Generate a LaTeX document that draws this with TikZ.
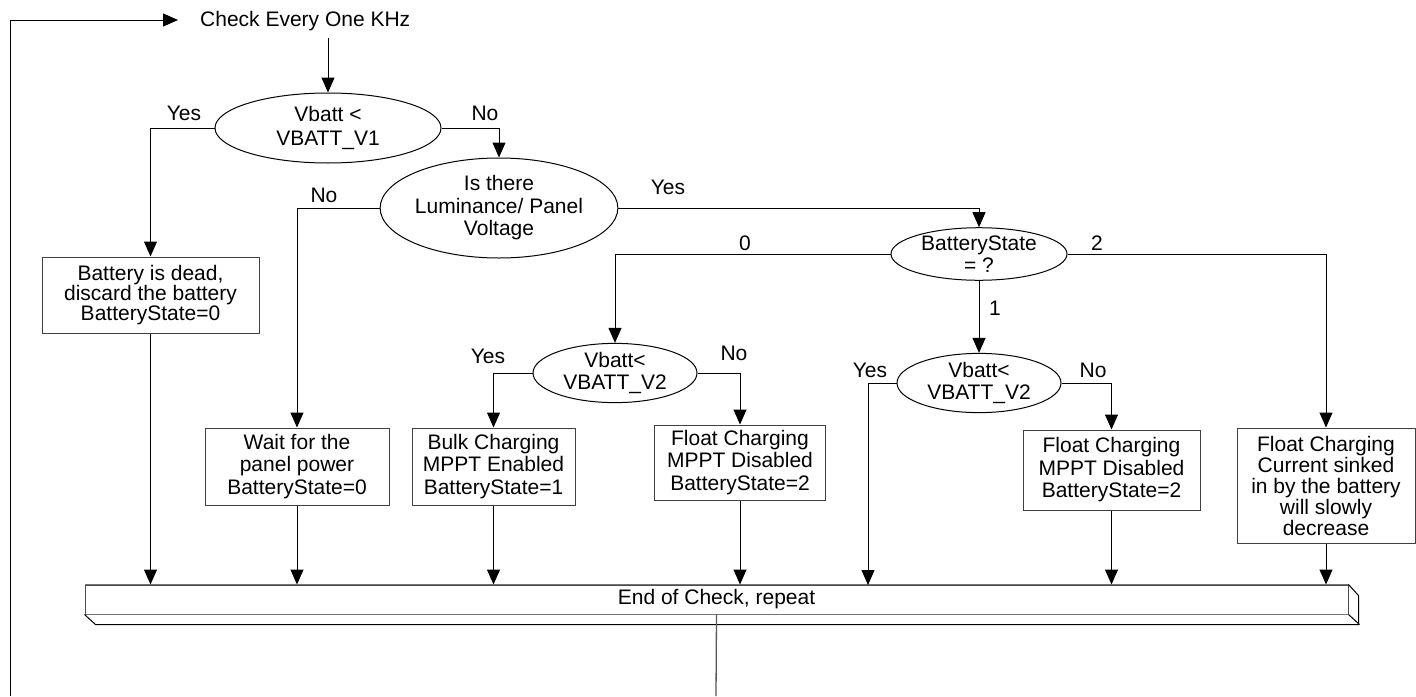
\documentclass[tikz,border=0pt]{standalone}
\usepackage{fontspec}
\setmainfont{Liberation Sans}
\usetikzlibrary{arrows.meta,shapes.geometric}
\newcommand\dfont{\fontsize{21}{20}\selectfont}
\newcommand\wfont{\fontsize{21}{22.5}\selectfont}
\newcommand\xfont{\fontsize{21}{24}\selectfont}
\begin{document}
\begin{tikzpicture}[x=1pt,y=-1pt,
  font=\dfont,
  conn/.style={draw=black, line width=1pt},
  arr/.style={conn, -{Triangle[length=15pt,width=13pt]}},
  dec/.style={ellipse, draw=black, line width=1pt, inner sep=0pt, align=center},
  proc/.style={rectangle, draw=black!75, line width=1pt, inner sep=2pt, align=center},
  lbl/.style={inner sep=0pt}]
\useasboundingbox (0,0) rectangle (1416,696);

% title
\node[lbl, anchor=base west] (title) at (200,26) {Check Every One KHz};

% decisions
\node[dec, font=\xfont, minimum width=226, minimum height=70] (e1) at (328,128) {Vbatt <\\VBATT\_V1};
\node[dec, font=\wfont, minimum width=230, minimum height=100] (e2) at (499,208) {Is there\\Luminance/ Panel\\Voltage};
\node[dec, font=\wfont, minimum width=176, minimum height=52] (e3) at (979,254) {BatteryState\\= ?};
\node[dec, font=\wfont, minimum width=164, minimum height=56] (e4) at (615,373) {Vbatt<\\VBATT\_V2};
\node[dec, font=\wfont, minimum width=164, minimum height=54] (e5) at (979,383) {Vbatt<\\VBATT\_V2};

% process boxes
\node[proc, minimum width=217, minimum height=76] (bA) at (150.5,295) {Battery is dead,\\discard the battery\\BatteryState=0};
\node[proc, font=\wfont, minimum width=184, minimum height=77] (bB) at (297,466.5) {Wait for the\\panel power\\BatteryState=0};
\node[proc, font=\wfont, minimum width=163, minimum height=77] (bC) at (493.5,466.5) {Bulk Charging\\MPPT Enabled\\BatteryState=1};
\node[proc, font=\wfont, minimum width=171, minimum height=75] (bD) at (740,462.5) {Float Charging\\MPPT Disabled\\BatteryState=2};
\node[proc, font=\wfont, minimum width=177, minimum height=80] (bE) at (1111.5,470) {Float Charging\\MPPT Disabled\\BatteryState=2};
\node[proc, font=\fontsize{21}{21}\selectfont, minimum width=178, minimum height=115] (bF) at (1326,485.5) {Float Charging\\Current sinked\\in by the battery\\will slowly\\decrease};

% end bar
\node[rectangle, draw=black!70, line width=1pt, minimum width=1263, minimum height=29, inner sep=0pt] (bar) at (716.5,599.5) {End of Check, repeat};
\draw[draw=black!55, line width=1.6pt] (bar.north west) -- (bar.north east);
\draw[draw=black!55, line width=1.4pt] (bar.south west) -- (bar.south east);
\draw[draw=black, line width=1pt] (bar.south west) -- ++(11,10) -- ++(1263,0) -- ++(0,-29) -- (bar.north east);
\draw[draw=black, line width=1pt] (bar.south east) -- ++(11,10);

% loop
\coordinate (botM) at (716,696);
\coordinate (botL) at (10,696);
\coordinate (topL) at (10,20);
\coordinate (arrEnd) at (178,20);
\draw[draw=black!65, line width=1.3pt] (bar.south) -- (botM);
\draw[conn] (botL) -- (topL);
\draw[arr] (topL) -- (arrEnd);
\coordinate (titleDown) at (328,38);
\draw[arr] (titleDown) -- (e1.north);

% decision branches
\draw[arr] (e1.west) -| (bA.north);
\draw[arr] (e1.east) -| (e2.north);
\draw[arr] (e2.west) -| (bB.north);
\draw[arr] (e2.east) -| (e3.north);
\draw[arr] (e3.west) -| (e4.north);
\draw[arr] (e3.east) -| (bF.north);
\draw[arr] (e3.south) -- (e5.north);
\draw[arr] (e4.west) -| (bC.north);
\draw[arr] (e4.east) -| (bD.north);
\coordinate (yesEnd) at (868,585);
\draw[arr] (e5.west) -| (yesEnd);
\draw[arr] (e5.east) -| (bE.north);

% boxes to bar
\draw[arr] (bA.south) -- (bA.south |- bar.north);
\draw[arr] (bB.south) -- (bB.south |- bar.north);
\draw[arr] (bC.south) -- (bC.south |- bar.north);
\draw[arr] (bD.south) -- (bD.south |- bar.north);
\draw[arr] (bE.south) -- (bE.south |- bar.north);
\draw[arr] (bF.south) -- (bF.south |- bar.north);

% labels
\node[lbl] (l1) at (184,113) {Yes};
\node[lbl] (l2) at (485,113) {No};
\node[lbl] (l3) at (324,195) {No};
\node[lbl] (l4) at (668,187) {Yes};
\node[lbl] (l5) at (745,243) {0};
\node[lbl] (l6) at (1097,243) {2};
\node[lbl] (l7) at (995,308) {1};
\node[lbl] (l8) at (488,356) {Yes};
\node[lbl] (l9) at (734,353) {No};
\node[lbl] (l10) at (870,370) {Yes};
\node[lbl] (l11) at (1093,370) {No};
\end{tikzpicture}
\end{document}
